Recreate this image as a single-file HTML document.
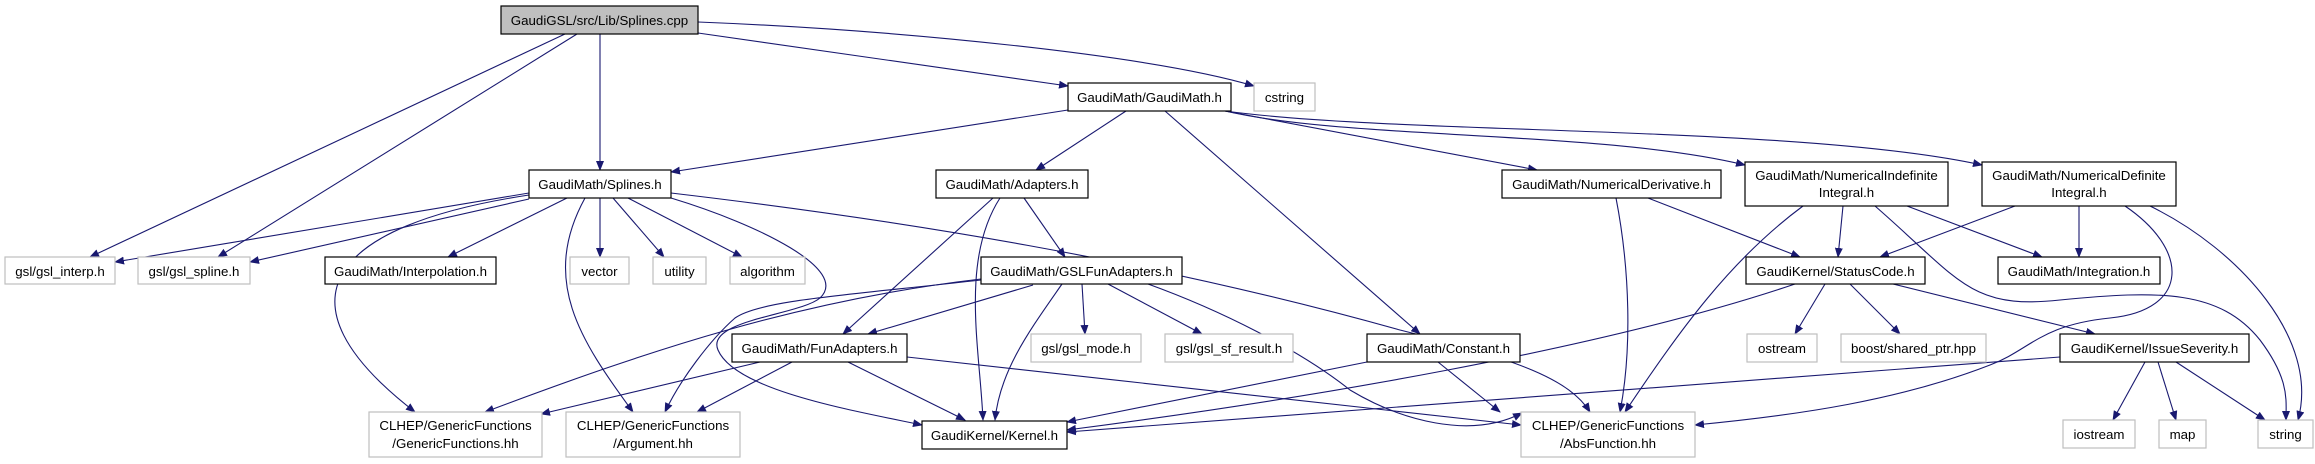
<!DOCTYPE html>
<html><head><meta charset="utf-8"><style>
html,body{margin:0;padding:0;background:#fff;}
svg{display:block;}
text{font-family:"Liberation Sans",sans-serif;font-size:13.3px;fill:#000;text-anchor:middle;}
.e{fill:none;stroke:#191970;stroke-width:1.1;marker-end:url(#a);}
.n{fill:#fff;stroke:#000;stroke-width:1.2;}
.x{fill:#fff;stroke:#bfbfbf;stroke-width:1.2;}
</style></head><body>
<svg width="2315" height="464" viewBox="0 0 2315 464" xmlns="http://www.w3.org/2000/svg">
<defs><marker id="a" markerWidth="10" markerHeight="8" refX="9" refY="4" orient="auto" markerUnits="userSpaceOnUse"><path d="M0,0 L10,4 L0,8 z" fill="#191970"/></marker></defs>
<path class="e" d="M565,34 L90,257"/>
<path class="e" d="M577,34 L218,257"/>
<path class="e" d="M600,34 L600,170"/>
<path class="e" d="M698,33 L1068,86"/>
<path class="e" d="M698,22 C900,30 1150,55 1254,86"/>
<path class="e" d="M529,193 L115,262"/>
<path class="e" d="M529,199 L250,262"/>
<path class="e" d="M567,198 L448,257"/>
<path class="e" d="M600,198 L600,257"/>
<path class="e" d="M613,198 L664,257"/>
<path class="e" d="M628,198 L742,257"/>
<path class="e" d="M529,195 C330,225 270,300 415,412"/>
<path class="e" d="M585,198 C540,280 580,340 633,412"/>
<path class="e" d="M671,198 C760,225 850,270 820,298 C800,315 705,320 718,350 C735,390 850,410 922,425"/>
<path class="e" d="M671,193 C900,220 1150,260 1400,330 C1520,360 1570,380 1590,412"/>
<path class="e" d="M1068,110 L671,172"/>
<path class="e" d="M1126,111 L1036,170"/>
<path class="e" d="M1165,111 L1420,334"/>
<path class="e" d="M1225,111 L1537,170"/>
<path class="e" d="M1225,111 C1350,140 1600,130 1745,165"/>
<path class="e" d="M1225,111 C1400,135 1800,125 1982,165"/>
<path class="e" d="M993,198 L843,334"/>
<path class="e" d="M1000,198 C960,260 980,350 983,420"/>
<path class="e" d="M1024,198 L1065,257"/>
<path class="e" d="M1082,284 L1085,334"/>
<path class="e" d="M1108,284 L1202,334"/>
<path class="e" d="M1033,285 L868,334"/>
<path class="e" d="M1062,284 C1030,330 1000,370 995,420"/>
<path class="e" d="M1148,284 C1220,310 1300,350 1350,390 C1400,420 1470,440 1522,413"/>
<path class="e" d="M981,279 C800,300 650,350 485,412"/>
<path class="e" d="M981,280 C850,295 760,300 735,318 C710,340 680,380 665,412"/>
<path class="e" d="M760,362 L541,414"/>
<path class="e" d="M792,362 L697,412"/>
<path class="e" d="M848,362 L965,420"/>
<path class="e" d="M907,357 L1521,425"/>
<path class="e" d="M1367,362 L1067,422"/>
<path class="e" d="M1438,362 L1500,412"/>
<path class="e" d="M1616,198 C1630,270 1632,350 1620,412"/>
<path class="e" d="M1648,198 L1800,257"/>
<path class="e" d="M1843,206 L1838,257"/>
<path class="e" d="M1907,206 L2042,257"/>
<path class="e" d="M1803,206 C1730,260 1680,330 1625,412"/>
<path class="e" d="M1875,206 C1960,280 1970,310 2060,300 C2160,290 2220,290 2260,340 C2290,380 2286,400 2286,420"/>
<path class="e" d="M2015,206 L1880,257"/>
<path class="e" d="M2079,206 L2079,257"/>
<path class="e" d="M2150,206 C2240,250 2320,340 2298,420"/>
<path class="e" d="M2125,206 C2190,250 2190,310 2110,318 C2040,325 2030,350 1990,365 C1900,400 1800,415 1695,425"/>
<path class="e" d="M1825,284 L1795,334"/>
<path class="e" d="M1850,284 L1900,334"/>
<path class="e" d="M1893,284 L2095,334"/>
<path class="e" d="M1795,284 C1600,350 1300,400 1067,430"/>
<path class="e" d="M2145,362 L2113,420"/>
<path class="e" d="M2158,362 L2176,420"/>
<path class="e" d="M2176,362 L2265,420"/>
<path class="e" d="M2060,357 L1067,432"/>
<rect x="501" y="6" width="197" height="28" fill="#bfbfbf" stroke="#000" stroke-width="1.2"/><text x="599.5" y="25">GaudiGSL/src/Lib/Splines.cpp</text>
<rect class="n" x="1068" y="83" width="163" height="28"/><text x="1149.5" y="102">GaudiMath/GaudiMath.h</text>
<rect class="x" x="1254" y="83" width="61" height="28"/><text x="1284.5" y="102">cstring</text>
<rect class="n" x="529" y="170" width="142" height="28"/><text x="600" y="189">GaudiMath/Splines.h</text>
<rect class="n" x="936" y="170" width="152" height="28"/><text x="1012" y="189">GaudiMath/Adapters.h</text>
<rect class="n" x="1502" y="170" width="219" height="28"/><text x="1611.5" y="189">GaudiMath/NumericalDerivative.h</text>
<rect class="n" x="1745" y="162" width="203" height="44"/><text x="1846.5" y="180">GaudiMath/NumericalIndefinite</text><text x="1846.5" y="197">Integral.h</text>
<rect class="n" x="1982" y="162" width="194" height="44"/><text x="2079" y="180">GaudiMath/NumericalDefinite</text><text x="2079" y="197">Integral.h</text>
<rect class="x" x="5" y="257" width="110" height="27"/><text x="60" y="276">gsl/gsl_interp.h</text>
<rect class="x" x="138" y="257" width="112" height="27"/><text x="194" y="276">gsl/gsl_spline.h</text>
<rect class="n" x="325" y="257" width="171" height="27"/><text x="410.5" y="276">GaudiMath/Interpolation.h</text>
<rect class="x" x="570" y="257" width="59" height="27"/><text x="599.5" y="276">vector</text>
<rect class="x" x="653" y="257" width="53" height="27"/><text x="679.5" y="276">utility</text>
<rect class="x" x="730" y="257" width="75" height="27"/><text x="767.5" y="276">algorithm</text>
<rect class="n" x="981" y="257" width="201" height="27"/><text x="1081.5" y="276">GaudiMath/GSLFunAdapters.h</text>
<rect class="n" x="1746" y="257" width="179" height="27"/><text x="1835.5" y="276">GaudiKernel/StatusCode.h</text>
<rect class="n" x="1998" y="257" width="162" height="27"/><text x="2079" y="276">GaudiMath/Integration.h</text>
<rect class="n" x="732" y="334" width="175" height="28"/><text x="819.5" y="353">GaudiMath/FunAdapters.h</text>
<rect class="x" x="1031" y="334" width="110" height="28"/><text x="1086" y="353">gsl/gsl_mode.h</text>
<rect class="x" x="1165" y="334" width="128" height="28"/><text x="1229" y="353">gsl/gsl_sf_result.h</text>
<rect class="n" x="1367" y="334" width="153" height="28"/><text x="1443.5" y="353">GaudiMath/Constant.h</text>
<rect class="x" x="1747" y="334" width="70" height="28"/><text x="1782" y="353">ostream</text>
<rect class="x" x="1841" y="334" width="145" height="28"/><text x="1913.5" y="353">boost/shared_ptr.hpp</text>
<rect class="n" x="2060" y="334" width="189" height="28"/><text x="2154.5" y="353">GaudiKernel/IssueSeverity.h</text>
<rect class="x" x="369" y="412" width="173" height="45"/><text x="455.5" y="430">CLHEP/GenericFunctions</text><text x="455.5" y="448">/GenericFunctions.hh</text>
<rect class="x" x="566" y="412" width="174" height="45"/><text x="653" y="430">CLHEP/GenericFunctions</text><text x="653" y="448">/Argument.hh</text>
<rect class="n" x="922" y="421" width="145" height="28"/><text x="994.5" y="440">GaudiKernel/Kernel.h</text>
<rect class="x" x="1521" y="412" width="174" height="45"/><text x="1608" y="430">CLHEP/GenericFunctions</text><text x="1608" y="448">/AbsFunction.hh</text>
<rect class="x" x="2063" y="420" width="72" height="28"/><text x="2099" y="439">iostream</text>
<rect class="x" x="2159" y="420" width="47" height="28"/><text x="2182.5" y="439">map</text>
<rect class="x" x="2258" y="420" width="55" height="28"/><text x="2285.5" y="439">string</text>
</svg>
</body></html>
